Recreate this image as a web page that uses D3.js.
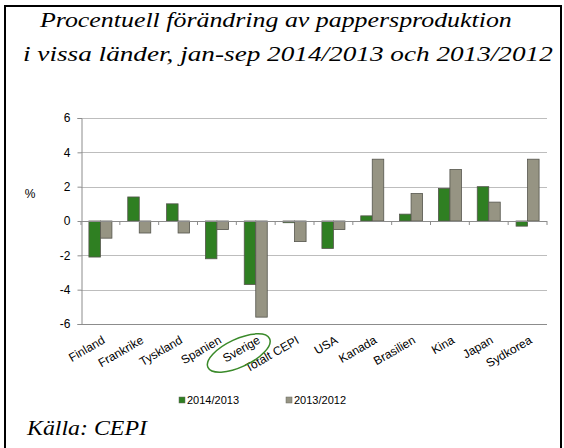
<!DOCTYPE html>
<html>
<head>
<meta charset="utf-8">
<script src="https://cdn.jsdelivr.net/npm/d3@7"></script>
<style>
  html, body { margin: 0; padding: 0; background: #fff; }
  svg { display: block; }
</style>
</head>
<body>
<div id="chart"></div>
<script>
document.addEventListener('DOMContentLoaded', () => {

    // data
    const countries = ["Finland", "Frankrike", "Tyskland", "Spanien", "Sverige", "Totalt CEPI",
                       "USA", "Kanada", "Brasilien", "Kina", "Japan", "Sydkorea"];
    const change1413 = [-2.1, 1.4, 1.0, -2.2, -3.7, -0.1, -1.6, 0.3, 0.4, 1.9, 2.0, -0.3];
    const change1312 = [-1.0, -0.7, -0.7, -0.5, -5.6, -1.2, -0.5, 3.6, 1.6, 3.0, 1.1, 3.6];
    const seriesNames = ["2014/2013", "2013/2012"];
    const yTicks = [-6, -4, -2, 0, 2, 4, 6];
    const titleLines = ["Procentuell förändring av pappersproduktion",
                        "i vissa länder, jan-sep 2014/2013 och 2013/2012"];

    const width = 564, height = 448;
    const colors = ["#2f7f22", "#969483"];
    const plot = { left: 81, right: 547, top: 118, bottom: 324 };
    const sans = "'Liberation Sans', Arial, sans-serif";
    const serif = "'Liberation Serif', 'Times New Roman', serif";

    const svg = d3.select("#chart").append("svg")
        .attr("width", width)
        .attr("height", height);

    // frame
    svg.append("rect")
        .attr("x", 5).attr("y", 6)
        .attr("width", 556).attr("height", 460)
        .attr("fill", "none")
        .attr("stroke", "#000")
        .attr("stroke-width", 2);

    // stretched serif text: the reference type is wider than it is tall
    const wideText = (x, yPos, str, size, targetWidth) => {
        const g = svg.append("g");
        const t = g.append("text")
            .style("font-family", serif)
            .style("font-style", "italic")
            .style("font-size", size + "px")
            .text(str);
        const k = targetWidth / t.node().getComputedTextLength();
        g.attr("transform", `translate(${x},${yPos}) scale(${k},1)`);
    };

    const titleSpan = [[40, 512], [23, 553]];
    titleLines.forEach((line, i) => {
        wideText(titleSpan[i][0], 27 + i * 34, line, 20, titleSpan[i][1] - titleSpan[i][0]);
    });

    const x0 = d3.scaleBand()
        .domain(countries)
        .range([plot.left, plot.right]);
    const x1 = d3.scaleBand()
        .domain(seriesNames)
        .range([0, 23])
        .padding(0);
    const y = d3.scaleLinear()
        .domain([-6, 6])
        .range([plot.bottom, plot.top]);

    // gridlines
    svg.append("g")
        .selectAll("line")
        .data(yTicks)
        .join("line")
        .attr("x1", plot.left).attr("x2", plot.right)
        .attr("y1", d => Math.round(y(d)) + 0.5)
        .attr("y2", d => Math.round(y(d)) + 0.5)
        .attr("stroke", d => d === -6 ? "#8c8c8c" : "#bdbdbd")
        .attr("stroke-width", 1.2);

    // y axis
    const yAxis = svg.append("g")
        .attr("transform", `translate(${plot.left + 0.5},0)`)
        .call(d3.axisLeft(y).tickValues(yTicks).tickSize(4).tickPadding(7).tickFormat(d => String(d)));
    yAxis.select(".domain").attr("stroke", "#8c8c8c");
    yAxis.selectAll(".tick line").attr("stroke", "#8c8c8c");
    yAxis.selectAll("text")
        .style("font-family", sans)
        .style("font-size", "12px")
        .attr("fill", "#000");

    svg.append("text")
        .attr("x", 30).attr("y", 198)
        .attr("text-anchor", "middle")
        .style("font-family", sans)
        .style("font-size", "12px")
        .text("%");

    // bars
    const rows = countries.map((c, i) => ({ country: c, values: [change1413[i], change1312[i]] }));
    const groupOffset = (x0.bandwidth() - 23) / 2;
    svg.append("g")
        .selectAll("g")
        .data(rows)
        .join("g")
        .attr("transform", d => `translate(${x0(d.country) + groupOffset},0)`)
        .selectAll("rect")
        .data(d => d.values.map((v, k) => ({ key: seriesNames[k], value: v, k })))
        .join("rect")
        .attr("x", d => x1(d.key))
        .attr("y", d => y(Math.max(0, d.value)))
        .attr("width", x1.bandwidth())
        .attr("height", d => Math.abs(y(d.value) - y(0)))
        .attr("fill", d => colors[d.k])
        .attr("stroke", "#55554d")
        .attr("stroke-width", 0.8);

    // category ticks on the zero line
    svg.append("g")
        .selectAll("line")
        .data(countries.map((c, i) => i).concat(countries.length))
        .join("line")
        .attr("x1", i => i === countries.length ? plot.right : x0(countries[i]))
        .attr("x2", i => i === countries.length ? plot.right : x0(countries[i]))
        .attr("y1", y(0)).attr("y2", y(0) + 4)
        .attr("stroke", "#8c8c8c");
    svg.append("line")
        .attr("x1", plot.left).attr("x2", plot.right)
        .attr("y1", Math.round(y(0)) + 0.5).attr("y2", Math.round(y(0)) + 0.5)
        .attr("stroke", "#8c8c8c");

    // rotated category labels
    svg.append("g")
        .selectAll("text")
        .data(countries)
        .join("text")
        .attr("transform", d => `translate(${x0(d) + x0.bandwidth() / 2 + 1},${plot.bottom + 11}) rotate(-30)`)
        .attr("text-anchor", "end")
        .attr("dy", "0.72em")
        .style("font-family", sans)
        .style("font-size", "12px")
        .text(d => d);

    // ellipse around Sverige
    const ex = x0("Sverige") + x0.bandwidth() / 2 - 17, ey = 353;
    svg.append("ellipse")
        .attr("cx", ex)
        .attr("cy", ey)
        .attr("rx", 34).attr("ry", 14)
        .attr("transform", `rotate(-25,${ex},${ey})`)
        .attr("fill", "none")
        .attr("stroke", "#3a8a2a")
        .attr("stroke-width", 1.5);

    // legend
    const legend = svg.append("g")
        .selectAll("g")
        .data(seriesNames)
        .join("g")
        .attr("transform", (d, i) => `translate(${179 + i * 107},397)`);
    legend.append("rect")
        .attr("width", 6).attr("height", 6)
        .attr("fill", (d, i) => colors[i])
        .attr("stroke", "#6a6a60")
        .attr("stroke-width", 0.5);
    legend.append("text")
        .attr("x", 8).attr("y", 7)
        .style("font-family", sans)
        .style("font-size", "11px")
        .text(d => d);

    // source
    wideText(27, 435, "Källa: CEPI", 20, 120);
});
</script>
</body>
</html>
